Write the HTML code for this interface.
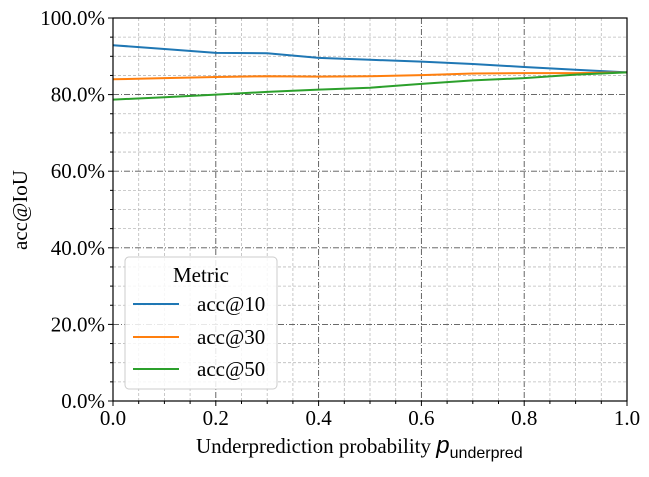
<!DOCTYPE html>
<html><head><meta charset="utf-8"><style>
body{margin:0;background:#fff;}
svg text{font-family:"Liberation Serif",serif;fill:#000;}
</style></head><body>
<svg id="chart" width="649" height="472" xmlns="http://www.w3.org/2000/svg">
<g id="grid"></g><g id="series"></g><g id="axes"></g>
</svg>
<script>
const xValues=[0,0.1,0.2,0.3,0.4,0.5,0.6,0.7,0.8,0.9,1.0];
const acc10=[92.9,91.9,90.9,90.8,89.6,89.1,88.6,88.0,87.2,86.5,85.8];
const acc30=[84.0,84.3,84.6,84.8,84.7,84.8,85.1,85.5,85.6,85.6,85.8];
const acc50=[78.7,79.3,80.0,80.7,81.3,81.8,82.8,83.7,84.3,85.2,85.8];
const xTicks=[0,0.2,0.4,0.6,0.8,1.0];
const xTickLabels=["0.0","0.2","0.4","0.6","0.8","1.0"];
const yTicks=[0,20,40,60,80,100];
const yTickLabels=["0.0%","20.0%","40.0%","60.0%","80.0%","100.0%"];
const L=113,R=627,T=18,B=401;
const xs=v=>L+(R-L)*v;
const ys=v=>B-(B-T)*v/100;
const NS="http://www.w3.org/2000/svg";
function mk(p,tag,a){const e=document.createElementNS(NS,tag);for(const k in a)e.setAttribute(k,a[k]);p.appendChild(e);return e;}
const grid=document.getElementById('grid'),ser=document.getElementById('series'),ax=document.getElementById('axes'),svg=document.getElementById('chart');
for(let i=1;i<20;i++){const v=i*0.05;const major=i%4===0;
 const l=mk(grid,'line',{x1:xs(v),x2:xs(v),y1:T,y2:B,stroke:major?'#555':'#bbb','stroke-width':major?0.9:0.8,'stroke-dasharray':major?'6,2,1,2':'3,2'});
 
 }
for(let i=1;i<20;i++){const v=i*5;const major=i%4===0;
 const l=mk(grid,'line',{x1:L,x2:R,y1:ys(v),y2:ys(v),stroke:major?'#555':'#bbb','stroke-width':major?0.9:0.8,'stroke-dasharray':major?'6,2,1,2':'3,2'});
 
 }
const series=[[acc10,'#1f77b4','acc@10'],[acc30,'#ff7f0e','acc@30'],[acc50,'#2ca02c','acc@50']];
series.forEach(s=>{const p=mk(ser,'polyline',{points:xValues.map((x,i)=>xs(x)+','+ys(s[0][i])).join(' '),fill:'none',stroke:s[1],'stroke-width':2});
 
 });
const frame=mk(ax,'rect',{x:L,y:T,width:R-L,height:B-T,fill:'none',stroke:'#000','stroke-width':1.2});


xTicks.forEach((v,i)=>{mk(ax,'line',{x1:xs(v),x2:xs(v),y1:B,y2:B+5,stroke:'#000'});
 const t=mk(ax,'text',{x:xs(v),y:B+24,'text-anchor':'middle','font-size':21});t.textContent=xTickLabels[i];
 
 });
for(let i=1;i<20;i++){if(i%4)mk(ax,'line',{x1:xs(i*0.05),x2:xs(i*0.05),y1:B,y2:B+3,stroke:'#000'});}
yTicks.forEach((v,i)=>{mk(ax,'line',{x1:L-5,x2:L,y1:ys(v),y2:ys(v),stroke:'#000'});
 const t=mk(ax,'text',{x:L-8,y:ys(v)+7,'text-anchor':'end','font-size':21});t.textContent=yTickLabels[i];
 
 });
for(let i=1;i<20;i++){if(i%4)mk(ax,'line',{x1:L-3,x2:L,y1:ys(i*5),y2:ys(i*5),stroke:'#000'});}
</script>
<svg width="649" height="472" style="position:absolute;left:0;top:0" xmlns="http://www.w3.org/2000/svg">
<text x="196" y="453" font-size="21" style="font-family:'Liberation Serif',serif">Underprediction probability <tspan font-style="italic" font-size="24" style="font-family:'Liberation Sans',sans-serif">p</tspan><tspan style="font-family:'Liberation Sans',sans-serif" font-size="16" dy="5">underpred</tspan></text>
<text transform="translate(27,210) rotate(-90)" text-anchor="middle" font-size="21" style="font-family:'Liberation Serif',serif">acc@IoU</text>
<g>
<rect x="125" y="257" width="152" height="132" rx="4" fill="#fff" fill-opacity="0.85" stroke="#ccc"/>
<text x="201" y="282" text-anchor="middle" font-size="21" style="font-family:'Liberation Serif',serif">Metric</text>
<g><line x1="133" x2="179" y1="304" y2="304" stroke="#1f77b4" stroke-width="2"/><text x="197" y="311" font-size="21" style="font-family:'Liberation Serif',serif">acc@10</text></g>
<g><line x1="133" x2="179" y1="337" y2="337" stroke="#ff7f0e" stroke-width="2"/><text x="197" y="344" font-size="21" style="font-family:'Liberation Serif',serif">acc@30</text></g>
<g><line x1="133" x2="179" y1="369" y2="369" stroke="#2ca02c" stroke-width="2"/><text x="197" y="376" font-size="21" style="font-family:'Liberation Serif',serif">acc@50</text></g>
</g>
</svg>
</body></html>
